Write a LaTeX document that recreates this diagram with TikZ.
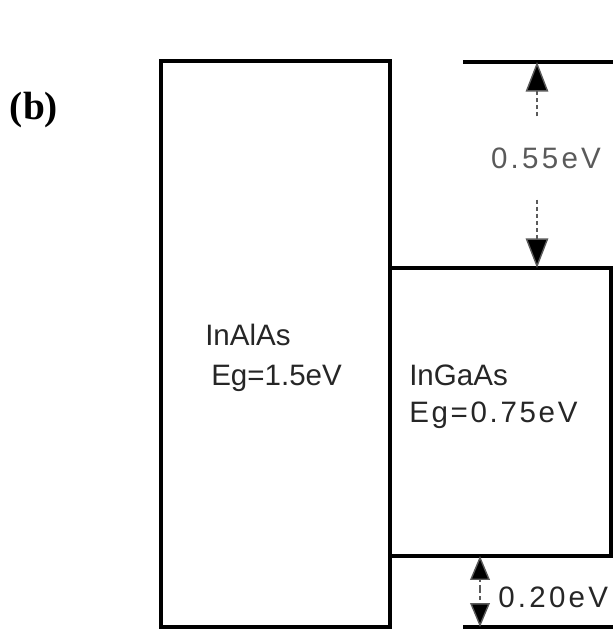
\documentclass[tikz,border=0pt]{standalone}
\usepackage{fontspec}
\setmainfont{Liberation Serif}
\setsansfont{Liberation Sans}
\definecolor{inkgray}{HTML}{262626}
\definecolor{fadegray}{HTML}{5A5A5A}
\usetikzlibrary{calc, positioning, arrows.meta}
\tikzset{
  bandline/.style={line width=3.4pt, line cap=rect},
  bandlbl/.style={font=\sffamily\fontsize{21}{25}\selectfont, text=inkgray, inner sep=0pt},
  spaced/.style={font=\sffamily\fontsize{21}{25}\selectfont\addfontfeatures{LetterSpace=#1}},
  gapbig/.style={densely dashed, line width=1pt, fadegray, -{Triangle[length=21pt, width=16pt, fill=black]}},
  gapsmall/.style={densely dashed, line width=1pt, fadegray, -{Triangle[length=17pt, width=14pt, fill=black]}}
}

\begin{document}
\begin{tikzpicture}[x=0.025cm, y=-0.025cm]
  \useasboundingbox (0,0) rectangle (616,630);

  % panel tag
  \node[font=\bfseries\fontsize{28}{32}\selectfont, inner sep=0pt] (tag) at (34,110) {(b)};

  % barrier and well
  \draw[bandline] (161,61) rectangle (390,627);
  \draw[bandline] (390,268) rectangle (611,556);
  \draw[bandline] (465,62) -- (611,62);
  \draw[bandline] (465,627) -- (611,627);

  \node[bandlbl, anchor=west] (alas) at (205,335) {InAlAs};
  \node[bandlbl, anchor=west] (alasEg) at (211,378) {Eg=1.5eV};
  \node[bandlbl, anchor=west] (gaas) at (409,375) {InGaAs};
  \node[bandlbl, spaced=9, anchor=west] (gaasEg) at (409,415) {Eg=0.75eV};

  % conduction band offset
  \coordinate (cbTop) at (537,62);
  \coordinate (cbWell) at (537,268);
  \node[bandlbl, spaced=11, text=fadegray] (dEc) at (546,158) {0.55eV};
  \draw[gapbig, shorten <=22pt] (dEc.north -| cbTop) -- (cbTop);
  \draw[gapbig, shorten <=22pt] (dEc.south -| cbWell) -- (cbWell);

  % valence band offset
  \coordinate (vbMid) at (480,589);
  \coordinate (vbWell) at (480,556);
  \coordinate (vbBot) at (480,627);
  \node[bandlbl, spaced=11, anchor=west] (dEv) at (498,597) {0.20eV};
  \draw[gapsmall] (vbMid) -- (vbWell);
  \draw[gapsmall] (vbMid) -- (vbBot);
\end{tikzpicture}
\end{document}
